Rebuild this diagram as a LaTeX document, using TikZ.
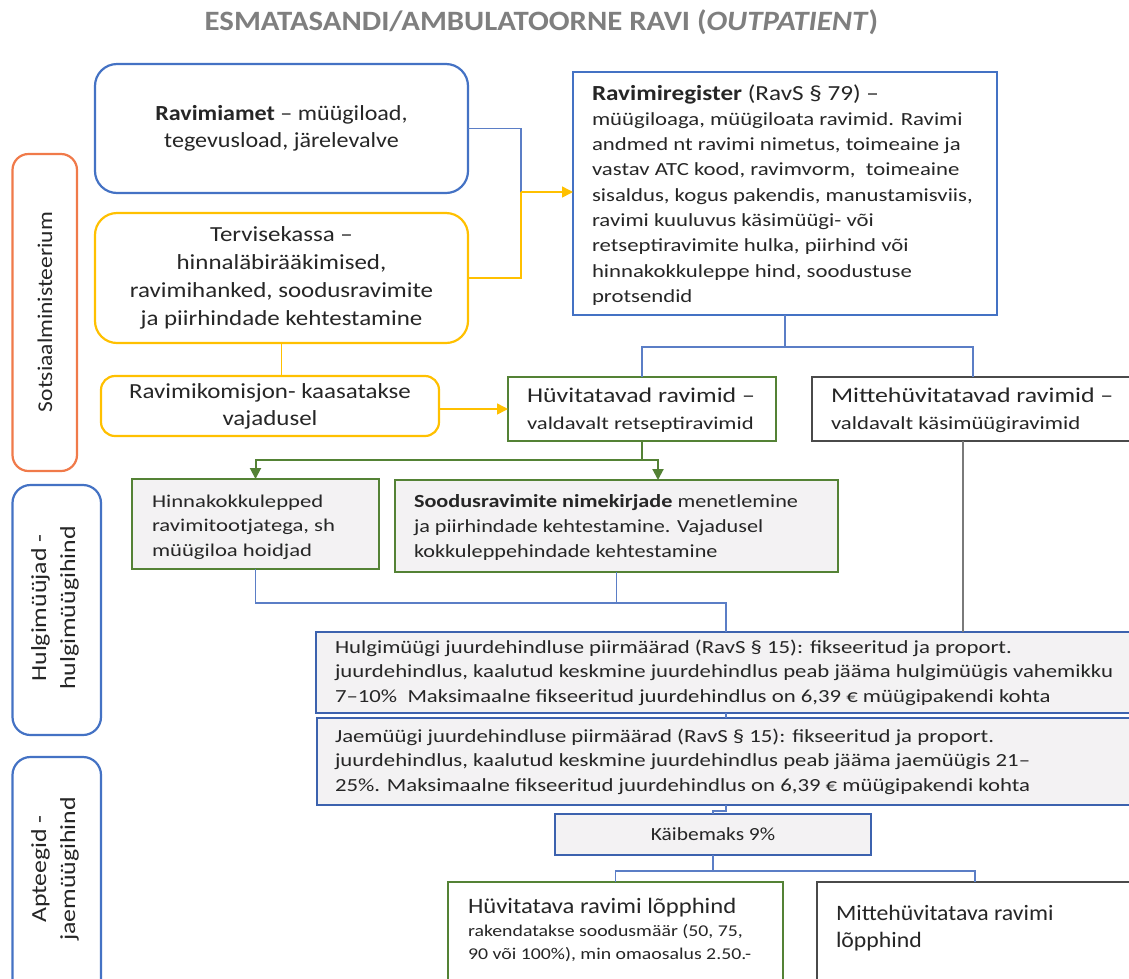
\documentclass[tikz,border=0pt]{standalone}
\usepackage{fontspec}
\setmainfont{Carlito}
\newfontfamily\fswa[FakeStretch=1.08]{Carlito}
\newfontfamily\fswb[FakeStretch=1.10]{Carlito}
\newfontfamily\fswc[FakeStretch=1.12]{Carlito}
\newfontfamily\fswd[FakeStretch=1.16]{Carlito}
\newfontfamily\fswe[FakeStretch=1.20]{Carlito}
\newfontfamily\fswf[FakeStretch=1.23]{Carlito}
\newfontfamily\fswg[FakeStretch=1.26]{Carlito}
\newfontfamily\fswk[FakeStretch=1.17]{Carlito}
\usetikzlibrary{arrows.meta}
\definecolor{cblue}{HTML}{4472C4}
\definecolor{cdblue}{HTML}{3C62AE}
\definecolor{cline}{HTML}{5B7EC6}
\definecolor{cyel}{HTML}{FFC000}
\definecolor{corg}{HTML}{F07A4A}
\definecolor{cgreen}{HTML}{548235}
\definecolor{cgray}{HTML}{4A4A4A}
\definecolor{cgrayl}{HTML}{7A7A7A}
\definecolor{cfill}{HTML}{F3F2F3}
\definecolor{ctitle}{HTML}{7F7F7F}
\definecolor{ctext}{HTML}{262626}
\tikzset{
  bx/.style={draw, anchor=north west, inner sep=0pt, outer sep=0pt, text=ctext},
  txt/.style={anchor=north west, inner sep=0pt, outer sep=0pt, align=left, text=ctext},
  conn/.style={line width=1.5pt},
  tip/.style={-{Triangle[length=11pt,width=11pt]}},
}
\newcommand{\fa}{\rule{0pt}{20pt}}
\begin{document}
\begin{tikzpicture}[x=1pt,y=-1pt]
\clip (0,0) rectangle (1129,978);
\fill[white] (0,0) rectangle (1129,978);

% title
\node[text=ctitle, font=\fswb\fontsize{28}{30}\selectfont\bfseries, inner sep=0pt] (title) at (541.5,22) {ESMATASANDI/AMBULATOORNE RAVI (\textit{OUTPATIENT})};

% side labels
\node[bx, draw=corg, line width=2.2pt, rounded corners=16pt, minimum width=64.5, minimum height=317] (sots) at (12.5,154) {};
\node[rotate=90, inner sep=0pt, text=ctext, font=\fswc\fontsize{21}{26}\selectfont] (sotst) at (45,312) {Sotsiaalministeerium};
\node[bx, draw=cblue, line width=2.2pt, rounded corners=18pt, minimum width=88.5, minimum height=250] (hulgl) at (12.5,485) {};
\node[rotate=90, inner sep=0pt, align=center, text=ctext, font=\fswe\fontsize{21.5}{29}\selectfont] (hulglt) at (55,608) {Hulgimüüjad -\\hulgimüügihind};
\node[bx, draw=cblue, line width=2.2pt, rounded corners=18pt, minimum width=88.5, minimum height=260] (aptl) at (12.5,757) {};
\node[rotate=90, inner sep=0pt, align=center, text=ctext, font=\fswe\fontsize{21.5}{29}\selectfont] (aptlt) at (55,869) {Apteegid -\\jaemüügihind};

% top-left boxes
\node[bx, draw=cblue, line width=2.2pt, rounded corners=22pt, minimum width=373, minimum height=129, align=center, font=\fswc\fontsize{21.5}{27.5}\selectfont] (ravimiamet) at (95,64) {\textbf{Ravimiamet} – müügiload,\\tegevusload, järelevalve};
\node[bx, draw=cyel, line width=2.2pt, rounded corners=22pt, minimum width=373, minimum height=130, align=center, font=\fswd\fontsize{21.5}{28}\selectfont] (terv) at (95,213) {Tervisekassa –\\hinnaläbirääkimised,\\ravimihanked, soodusravimite\\ja piirhindade kehtestamine};
\node[bx, draw=cyel, line width=2.2pt, rounded corners=14pt, minimum width=338, minimum height=60, align=center, font=\fswd\fontsize{21.5}{27}\selectfont] (komis) at (101,376) {Ravimikomisjon- kaasatakse\\vajadusel};

% Ravimiregister
\node[bx, draw=cblue, line width=2pt, minimum width=424, minimum height=243] (reg) at (573,72) {};
\node[txt, font=\fswf\fontsize{18.5}{25.3}\selectfont] (regt) at (592,80) {\fa{\fswk\fontsize{21.5}{25}\selectfont\textbf{Ravimiregister} (RavS § 79) –}\\
müügiloaga, müügiloata ravimid. Ravimi\\
andmed nt ravimi nimetus, toimeaine ja\\
vastav ATC kood, ravimvorm,\ \ toimeaine\\
sisaldus, kogus pakendis, manustamisviis,\\
ravimi kuuluvus käsimüügi- või\\
retseptiravimite hulka, piirhind või\\
hinnakokkuleppe hind, soodustuse\\
protsendid};

% Hüvitatavad / Mittehüvitatavad
\node[bx, draw=cgreen, line width=2.4pt, minimum width=268, minimum height=64] (hyv) at (508,377) {};
\node[txt, font=\fswf\fontsize{21}{27}\selectfont] (hyvt) at (527,382) {\fa Hüvitatavad ravimid –\\{\fswg\fontsize{18}{27}\selectfont valdavalt retseptiravimid}};
\node[bx, draw=cgray, line width=2.4pt, minimum width=322, minimum height=64] (mitte) at (812,377) {};
\node[txt, font=\fswf\fontsize{21}{27}\selectfont] (mittet) at (831,382) {\fa Mittehüvitatavad ravimid –\\{\fswf\fontsize{18.5}{27}\selectfont valdavalt käsimüügiravimid}};

% green boxes
\node[bx, draw=cgreen, fill=cfill, line width=2.4pt, minimum width=247, minimum height=90] (hinna) at (132,479) {};
\node[txt, font=\fswg\fontsize{18}{24.5}\selectfont] (hinnat) at (152,487) {\fa Hinnakokkulepped\\ravimitootjatega, sh\\müügiloa hoidjad};
\node[bx, draw=cgreen, fill=cfill, line width=2.4pt, minimum width=443, minimum height=92] (sood) at (395,480) {};
\node[txt, font=\fswe\fontsize{18.5}{25}\selectfont] (soodt) at (414,487) {\fa\textbf{Soodusravimite nimekirjade} menetlemine\\ja piirhindade kehtestamine. Vajadusel\\kokkuleppehindade kehtestamine};

% markup boxes
\node[bx, draw=cdblue, fill=cfill, line width=2.5pt, minimum width=820, minimum height=81] (hulg) at (316,632) {};
\node[txt, font=\fswf\fontsize{18.5}{24.5}\selectfont] (hulgt) at (335,633) {\fa Hulgimüügi juurdehindluse piirmäärad (RavS § 15): fikseeritud ja proport.\\juurdehindlus, kaalutud keskmine juurdehindlus peab jääma hulgimüügis vahemikku\\7–10\%\ \ Maksimaalne fikseeritud juurdehindlus on 6,39 € müügipakendi kohta};
\node[bx, draw=cdblue, fill=cfill, line width=2.5pt, minimum width=818, minimum height=87] (jae) at (317,718) {};
\node[txt, font=\fswf\fontsize{18.5}{24.5}\selectfont] (jaet) at (335,722) {\fa Jaemüügi juurdehindluse piirmäärad (RavS § 15): fikseeritud ja proport.\\juurdehindlus, kaalutud keskmine juurdehindlus peab jääma jaemüügis 21–\\25\%. Maksimaalne fikseeritud juurdehindlus on 6,39 € müügipakendi kohta};
\node[bx, draw=cdblue, fill=cfill, line width=2.5pt, minimum width=316, minimum height=41, font=\fswd\fontsize{18.5}{22}\selectfont] (kaib) at (555,814) {Käibemaks 9\%};

% final boxes
\node[bx, draw=cgreen, line width=2.4pt, minimum width=335, minimum height=130] (hlop) at (448,882) {};
\node[txt, font=\fswe\fontsize{16.5}{23}\selectfont] (hlopt) at (468,893) {\fa{\fswc\fontsize{22}{23}\selectfont Hüvitatava ravimi lõpphind}\\rakendatakse soodusmäär (50, 75,\\90 või 100\%), min omaosalus 2.50.-};
\node[bx, draw=cgray, line width=2.4pt, minimum width=316, minimum height=130] (mlop) at (817,882) {};
\node[txt, font=\fswa\fontsize{22}{27}\selectfont] (mlopt) at (836,900) {\fa Mittehüvitatava ravimi\\lõpphind};

% connectors
\coordinate (j1) at (521,192);
\draw[conn, cline] (ravimiamet.east) -- (ravimiamet.east -| j1) -- (j1);
\draw[conn, cyel] (terv.east) -- (terv.east -| j1) -- (j1);
\draw[conn, cyel, tip] (j1) -- (j1 -| reg.west);
\draw[conn, cyel] (terv.south) -- (terv.south |- komis.north);
\draw[conn, cyel, tip] (komis.east |- hyv.west) -- (hyv.west);

\coordinate (j2) at (785,347);
\draw[conn, cline] (reg.south) -- (j2);
\draw[conn, cline] (hyv.north) -- (hyv.north |- j2) -- (mitte.north |- j2) -- (mitte.north);

\coordinate (j3) at (642,460);
\coordinate (sdin) at (658,480);
\draw[conn, cgreen, line width=2pt] (hyv.south) -- (j3);
\draw[conn, cgreen, line width=2pt, tip] (j3) -- (j3 -| hinna.north) -- (hinna.north);
\draw[conn, cgreen, line width=2pt, tip] (j3) -- (j3 -| sdin) -- (sdin);

\coordinate (j4) at (726,603);
\draw[conn, cline] (hinna.south) -- (hinna.south |- j4) -- (j4) -- (hulg.north);
\draw[conn, cline] (sood.south) -- (sood.south |- j4);

\coordinate (mout) at (963,441);
\draw[conn, cgrayl] (mout) -- (mout |- hulg.north);

\draw[conn, cline] (hulg.south) -- (jae.north);
\draw[conn, cline] (jae.south) -- ++(0,6) -| (kaib.north);
\coordinate (j5) at (713,871);
\draw[conn, cline] (kaib.south) -- (j5);
\draw[conn, cline] (hlop.north) -- (hlop.north |- j5) -- (mlop.north |- j5) -- (mlop.north);
\end{tikzpicture}
\end{document}
